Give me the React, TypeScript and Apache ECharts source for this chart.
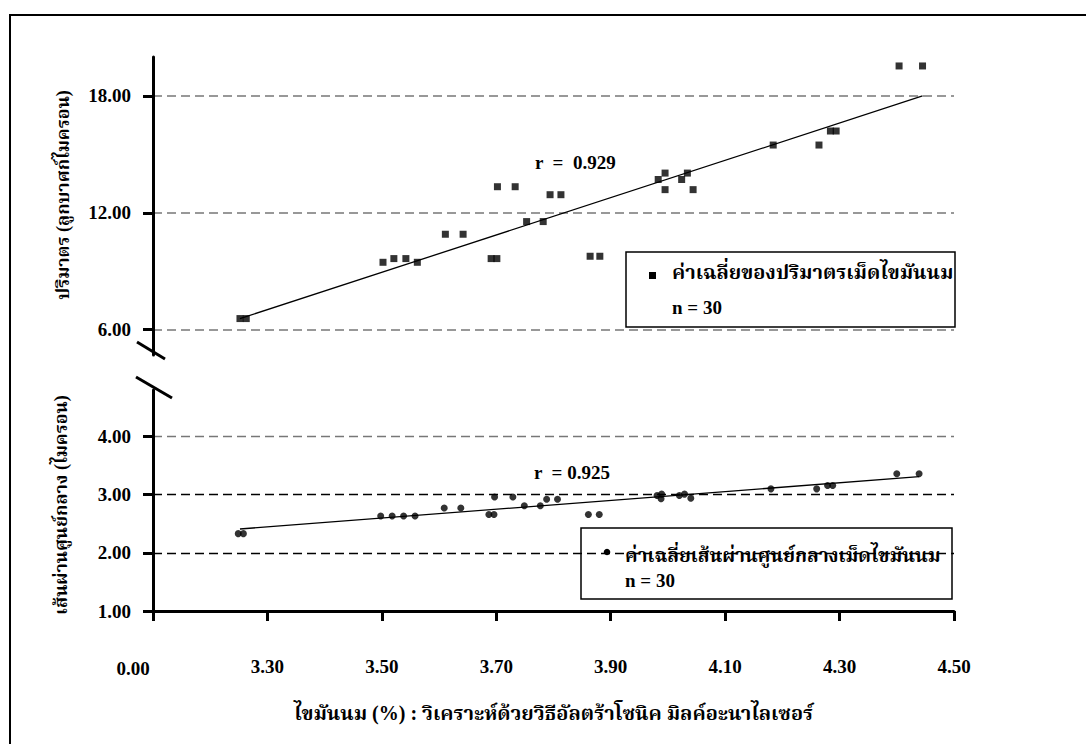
import React, { useEffect, useRef } from 'react';
import * as echarts from 'echarts';

// ---------- data ----------
const volumeFat = [3.252, 3.263, 3.502, 3.521, 3.542, 3.562, 3.611, 3.642, 3.691, 3.701, 3.702, 3.733, 3.753, 3.782, 3.794, 3.813, 3.864, 3.881, 3.983, 3.995, 3.995, 4.024, 4.034, 4.044, 4.184, 4.264, 4.284, 4.294, 4.404, 4.445];
const volumeValues = [6.57, 6.57, 9.46, 9.65, 9.65, 9.46, 10.9, 10.9, 9.65, 9.65, 13.34, 13.34, 11.55, 11.55, 12.93, 12.93, 9.77, 9.77, 13.71, 14.04, 13.19, 13.71, 14.04, 13.19, 15.48, 15.48, 16.2, 16.2, 19.54, 19.54];
const diameterFat = [3.249, 3.258, 3.498, 3.518, 3.538, 3.558, 3.609, 3.638, 3.687, 3.696, 3.697, 3.729, 3.749, 3.777, 3.788, 3.807, 3.861, 3.88, 3.981, 3.989, 3.988, 4.02, 4.029, 4.04, 4.18, 4.26, 4.279, 4.288, 4.4, 4.439];
const diameterValues = [2.33, 2.33, 2.635, 2.635, 2.635, 2.635, 2.77, 2.77, 2.66, 2.66, 2.96, 2.96, 2.81, 2.81, 2.92, 2.92, 2.66, 2.66, 2.985, 3.01, 2.93, 2.985, 3.01, 2.94, 3.1, 3.1, 3.157, 3.157, 3.36, 3.36];

const volumeTrendX = [3.252, 4.445];
const volumeTrendY = [6.57, 18.0];
const diameterTrendX = [3.252, 4.439];
const diameterTrendY = [2.41, 3.31];

const xMin = 3.1;
const xMax = 4.5;
const xStep = 0.2;
const xFirstLabel = '0.00';
const volumeTicks = [6, 12, 18];
const diameterTicks = [1, 2, 3, 4];

const volumeR = 'r  =  0.929';
const diameterR = 'r  = 0.925';
const volumeLegend = 'ค่าเฉลี่ยของปริมาตรเม็ดไขมันนม';
const diameterLegend = 'ค่าเฉลี่ยเส้นผ่านศูนย์กลางเม็ดไขมันนม';
const sampleN = 'n = 30';
const xTitle = 'ไขมันนม (%) : วิเคราะห์ด้วยวิธีอัลตร้าโซนิค มิลค์อะนาไลเซอร์';
const volumeTitle = 'ปริมาตร (ลูกบาศก์ไมครอน)';
const diameterTitle = 'เส้นผ่านศูนย์กลาง (ไมครอน)';

const NUM_FONT = 'Liberation Serif';
const THAI_FONT = 'Liberation Serif, Noto Serif Thai, Noto Sans Thai, serif';

const zip = (xs: number[], ys: number[]) => xs.map((x, i) => [x, ys[i]]);

export default function App() {
  const ref = useRef<HTMLDivElement>(null);
  useEffect(() => {
    if (!ref.current) return;
    const chart = echarts.init(ref.current, null, { renderer: 'svg' });
    const numLabel = { fontFamily: NUM_FONT, fontWeight: 'bold' as const, fontSize: 19, color: '#000' };
    const txt = (text: string, size: number, family: string, extra: any = {}) => ({
      text, fontFamily: family, fontSize: size, fontWeight: 'bold', fill: '#000', ...extra,
    });
    const option: any = {
      animation: false,
      backgroundColor: '#fff',
      grid: [
        { left: 153, top: 57, width: 801, height: 298 },
        { left: 153, top: 390, width: 801, height: 221 },
      ],
      xAxis: [
        { type: 'value', gridIndex: 0, min: xMin, max: xMax, interval: xStep, show: false },
        {
          type: 'value', gridIndex: 1, min: xMin, max: xMax, interval: xStep,
          axisLine: { show: true, lineStyle: { color: '#000', width: 3 } },
          axisTick: { show: true, length: 10, lineStyle: { color: '#000', width: 3 } },
          splitLine: { show: false },
          axisLabel: {
            ...numLabel, margin: 46,
            formatter: (v: number) => (Math.abs(v - xMin) < 1e-6 ? '' : v.toFixed(2)),
          },
          name: xTitle, nameLocation: 'middle', nameGap: 92,
          nameTextStyle: { fontFamily: THAI_FONT, fontWeight: 'bold', fontSize: 20, color: '#000' },
        },
      ],
      yAxis: [
        {
          type: 'value', gridIndex: 0, min: 4.7, max: 20,
          axisLine: { show: true, lineStyle: { color: '#000', width: 3 } },
          axisTick: { show: true, length: 10, customValues: volumeTicks, lineStyle: { color: '#000', width: 3 } },
          axisLabel: { ...numLabel, margin: 22, customValues: volumeTicks, formatter: (v: number) => v.toFixed(2) },
          splitLine: { show: true, lineStyle: { color: '#777', width: 1.5, type: [9, 5] } },
        },
        {
          type: 'value', gridIndex: 1, min: 1, max: 4.8,
          axisLine: { show: true, lineStyle: { color: '#000', width: 3 } },
          axisTick: { show: true, length: 10, customValues: diameterTicks, lineStyle: { color: '#000', width: 3 } },
          axisLabel: { ...numLabel, margin: 22, customValues: diameterTicks, formatter: (v: number) => v.toFixed(2) },
          splitLine: { show: true, lineStyle: { color: ['#000', '#000', '#000', '#777'], width: 1.3, type: [9, 5] } },
        },
      ],
      series: [
        {
          type: 'line', xAxisIndex: 0, yAxisIndex: 0, data: zip(volumeTrendX, volumeTrendY),
          symbol: 'none', lineStyle: { color: '#000', width: 1.3 }, silent: true, z: 2,
        },
        {
          type: 'scatter', name: volumeLegend, xAxisIndex: 0, yAxisIndex: 0, data: zip(volumeFat, volumeValues),
          symbol: 'rect', symbolSize: 7, itemStyle: { color: '#000' }, z: 3,
        },
        {
          type: 'line', xAxisIndex: 1, yAxisIndex: 1, data: zip(diameterTrendX, diameterTrendY),
          symbol: 'none', lineStyle: { color: '#000', width: 1.3 }, silent: true, z: 2,
        },
        {
          type: 'scatter', name: diameterLegend, xAxisIndex: 1, yAxisIndex: 1, data: zip(diameterFat, diameterValues),
          symbol: 'circle', symbolSize: 7, itemStyle: { color: '#000' }, z: 3,
        },
      ],
      graphic: [
        { type: 'rect', z: 0, silent: true, shape: { x: 10, y: 15, width: 1100, height: 760 }, style: { fill: 'none', stroke: '#000', lineWidth: 2 } },
        // axis breaks
        { type: 'line', z: 100, shape: { x1: 137, y1: 342, x2: 165, y2: 359 }, style: { stroke: '#000', lineWidth: 3 } },
        { type: 'line', z: 100, shape: { x1: 136, y1: 377, x2: 172, y2: 398 }, style: { stroke: '#000', lineWidth: 3 } },
        // first x label
        { type: 'text', z: 100, x: 133, y: 668, style: txt(xFirstLabel, 19, NUM_FONT, { align: 'center', verticalAlign: 'middle' }) },
        // r values
        { type: 'text', z: 100, x: 535, y: 162, style: txt(volumeR, 19, NUM_FONT, { verticalAlign: 'middle' }) },
        { type: 'text', z: 100, x: 534, y: 472, style: txt(diameterR, 19, NUM_FONT, { verticalAlign: 'middle' }) },
        // y titles
        { type: 'text', z: 100, x: 63, y: 195, rotation: Math.PI / 2, style: txt(volumeTitle, 18, THAI_FONT, { align: 'center', verticalAlign: 'middle' }) },
        { type: 'text', z: 100, x: 61, y: 505, rotation: Math.PI / 2, style: txt(diameterTitle, 18, THAI_FONT, { align: 'center', verticalAlign: 'middle' }) },
        // legend top
        {
          type: 'group', x: 626, y: 252, z: 100,
          children: [
            { type: 'rect', shape: { x: 0, y: 0, width: 329, height: 75 }, style: { fill: '#fff', stroke: '#000', lineWidth: 1.5 } },
            { type: 'rect', shape: { x: 23, y: 20, width: 7, height: 7 }, style: { fill: '#000' } },
            { type: 'text', x: 46, y: 20, style: txt(volumeLegend, 20, THAI_FONT, { verticalAlign: 'middle' }) },
            { type: 'text', x: 46, y: 55, style: txt(sampleN, 19, NUM_FONT, { verticalAlign: 'middle' }) },
          ],
        },
        // legend bottom
        {
          type: 'group', x: 581, y: 528, z: 100,
          children: [
            { type: 'rect', shape: { x: 0, y: 0, width: 371, height: 71 }, style: { fill: '#fff', stroke: '#000', lineWidth: 1.5 } },
            { type: 'circle', shape: { cx: 26, cy: 24, r: 3.3 }, style: { fill: '#000' } },
            { type: 'text', x: 44, y: 27, style: txt(diameterLegend, 19, THAI_FONT, { verticalAlign: 'middle' }) },
            { type: 'text', x: 44, y: 52, style: txt(sampleN, 19, NUM_FONT, { verticalAlign: 'middle' }) },
          ],
        },
      ],
    };
    chart.setOption(option);
    return () => chart.dispose();
  }, []);
  return <div ref={ref} style={{ position: 'fixed', left: 0, top: 0, width: 1086, height: 744, background: '#fff' }} />;
}
